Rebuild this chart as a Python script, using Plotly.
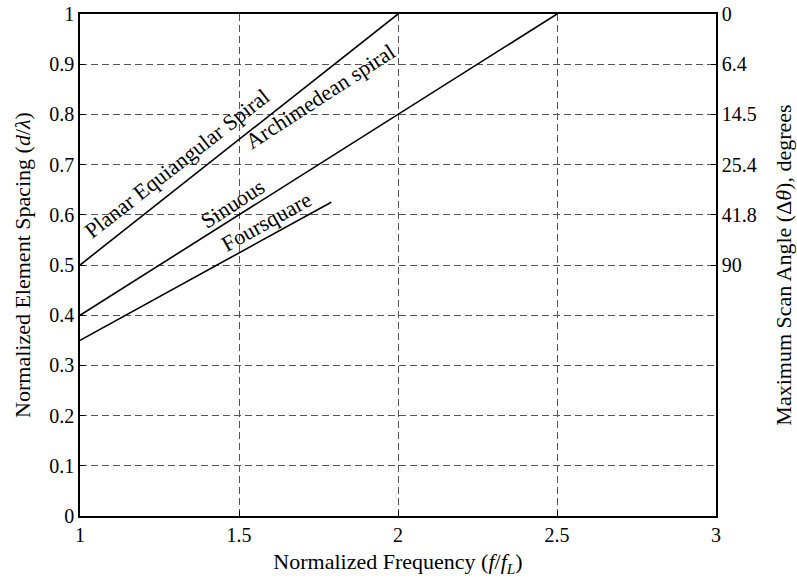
import plotly.graph_objects as go

# Data
planar_x = [1.0, 2.0]
planar_y = [0.5, 1.0]
archimedean_x = [1.0, 2.5]
archimedean_y = [0.4, 1.0]
foursquare_x = [1.0, 1.79]
foursquare_y = [0.35, 0.625]

x_ticks = [1, 1.5, 2, 2.5, 3]
x_ticktext = ["1", "1.5", "2", "2.5", "3"]
y_ticks = [0, 0.1, 0.2, 0.3, 0.4, 0.5, 0.6, 0.7, 0.8, 0.9, 1]
y_ticktext = ["0", "0.1", "0.2", "0.3", "0.4", "0.5", "0.6", "0.7", "0.8", "0.9", "1"]
right_tickvals = [1.0, 0.9, 0.8, 0.7, 0.6, 0.5]
right_ticktext = ["0", "6.4", "14.5", "25.4", "41.8", "90"]

labels = ["Planar Equiangular Spiral", "Archimedean spiral", "Sinuous", "Foursquare"]
label_x = [1.304, 1.755, 1.481, 1.587]
label_y = [0.703, 0.835, 0.623, 0.586]
label_angle = [-38, -33, -33, -29]

FONT = "'Liberation Serif', 'Times New Roman', Times, serif"
TICK_FS = 20
TITLE_FS = 22
LABEL_FS = 22
line_style = dict(color="black", width=1.6)
GRID_DASH = "7px,4px"
GRID_COLOR = "#555555"

fig = go.Figure()
for xs, ys in [(planar_x, planar_y), (archimedean_x, archimedean_y), (foursquare_x, foursquare_y)]:
    fig.add_trace(go.Scatter(x=xs, y=ys, mode="lines", line=line_style, showlegend=False, hoverinfo="skip"))

# invisible trace to activate the right axis
fig.add_trace(go.Scatter(x=[None], y=[None], yaxis="y2", showlegend=False, hoverinfo="skip"))

for t, x, y, a in zip(labels, label_x, label_y, label_angle):
    fig.add_annotation(x=x, y=y, text=t, textangle=a, showarrow=False,
                       font=dict(family=FONT, size=LABEL_FS, color="black"))

axis_common = dict(showline=True, linecolor="black", linewidth=1.5,
                   ticks="inside", ticklen=5, tickcolor="black",
                   tickfont=dict(family=FONT, size=TICK_FS, color="black"),
                   zeroline=False, automargin=False, ticklabeloverflow="allow")

fig.update_layout(
    width=797, height=580,
    margin=dict(l=80, r=81, t=14, b=64),
    paper_bgcolor="white", plot_bgcolor="white",
    font=dict(family=FONT, color="black"),
    xaxis=dict(range=[1, 3], tickvals=x_ticks, ticktext=x_ticktext,
               mirror=True, showgrid=True, gridcolor=GRID_COLOR, griddash=GRID_DASH, gridwidth=1,
               title=dict(text="Normalized Frequency (<i>f</i>/<i>f<sub>L</sub></i>)",
                          font=dict(family=FONT, size=TITLE_FS), standoff=9),
               **axis_common),
    yaxis=dict(range=[0, 1], tickvals=y_ticks, ticktext=y_ticktext,
               mirror=True, showgrid=True, gridcolor=GRID_COLOR, griddash=GRID_DASH, gridwidth=1,
               title=dict(text="Normalized Element Spacing (<i>d</i>/<i>λ</i>)",
                          font=dict(family=FONT, size=TITLE_FS), standoff=13),
               **axis_common),
    yaxis2=dict(range=[0, 1], overlaying="y", side="right", tickvals=right_tickvals,
                ticktext=right_ticktext, showgrid=False,
                title=dict(text="Maximum Scan Angle (Δ<i>θ</i>), degrees",
                           font=dict(family=FONT, size=TITLE_FS), standoff=20),
                **axis_common),
)

# remove the default page margin so the figure fills the window exactly
fig.write_html("out.html", config={"displayModeBar": False},
               post_script="document.body.style.margin='0';")
